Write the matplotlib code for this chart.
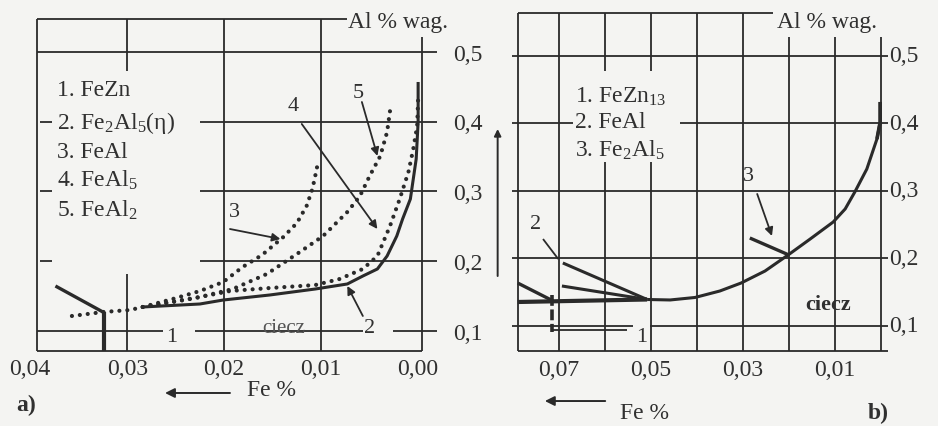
import numpy as np
import matplotlib
matplotlib.use('Agg')
import matplotlib.pyplot as plt

plt.rcParams['font.family'] = ['Liberation Serif', 'DejaVu Serif']
plt.rcParams['mathtext.fontset'] = 'custom'
plt.rcParams['mathtext.rm'] = 'Liberation Serif'
plt.rcParams['mathtext.it'] = 'Liberation Serif:italic'
plt.rcParams['mathtext.bf'] = 'Liberation Serif:bold'

INK = '#2a2a2a'
TXT = '#303030'
BG = '#f4f4f2'

# ---- panel a) : Fe % vs Al % wag.
a_xticks = [0.04, 0.03, 0.02, 0.01, 0.00]
a_xlabels = ['0,04', '0,03', '0,02', '0,01', '0,00']
a_yticks = [0.5, 0.4, 0.3, 0.2, 0.1]
a_ylabels = ['0,5', '0,4', '0,3', '0,2', '0,1']

# liquidus (solid line, 2)
fe_liq_a = [0.0284, 0.0225, 0.0201, 0.0153, 0.0106, 0.0073, 0.0057, 0.0042,
            0.0032, 0.0022, 0.0016, 0.0008, 0.0002, 0.0000, 0.0000]
al_liq_a = [0.1344, 0.1387, 0.1444, 0.1516, 0.1602, 0.1674, 0.1788, 0.1889,
            0.2075, 0.2362, 0.2606, 0.2892, 0.3466, 0.3996, 0.4570]
# dotted continuation to the left
fe_liq_a_dot = [0.0357, 0.0349, 0.0325, 0.0297, 0.0284]
al_liq_a_dot = [0.1215, 0.1229, 0.1272, 0.1301, 0.1344]
# FeZn boundary (1)
fe_fezn_a = [0.0374, 0.0325]
al_fezn_a = [0.1645, 0.1272]
fe_fezn_v = [0.0324, 0.0324]
al_fezn_v = [0.1272, 0.0713]
# metastable curves (dotted) 3, 4, 5
fe_c3 = [0.0284, 0.0253, 0.0225, 0.0201, 0.0181, 0.0161, 0.0139, 0.0125,
         0.0115, 0.0109, 0.0105, 0.0103]
al_c3 = [0.1344, 0.1459, 0.1573, 0.1702, 0.1917, 0.2089, 0.2347, 0.2548,
         0.2792, 0.3036, 0.3294, 0.3437]
fe_c4 = [0.0284, 0.0235, 0.0194, 0.0153, 0.0106, 0.0081, 0.0057, 0.0042,
         0.0029, 0.0019, 0.0010, 0.0005, 0.0001, 0.0000]
al_c4 = [0.1344, 0.1459, 0.1573, 0.1616, 0.1659, 0.1745, 0.1889, 0.2075,
         0.2505, 0.2892, 0.3279, 0.3609, 0.3939, 0.4326]
fe_c5 = [0.0284, 0.0225, 0.0191, 0.0156, 0.0122, 0.0098, 0.0073, 0.0060,
         0.0050, 0.0039, 0.0032, 0.0029]
al_c5 = [0.1344, 0.1487, 0.1602, 0.1817, 0.2132, 0.2362, 0.2706, 0.2935,
         0.3222, 0.3509, 0.3853, 0.4154]
a_legend = ['1. FeZn', '2. Fe$_2$Al$_5$(η)', '3. FeAl', '4. FeAl$_5$',
            '5. FeAl$_2$']

# ---- panel b)
b_xticks = [0.07, 0.05, 0.03, 0.01]
b_xlabels = ['0,07', '0,05', '0,03', '0,01']
b_grid_x = [0.07, 0.06, 0.05, 0.04, 0.03, 0.02, 0.01, 0.00]
b_yticks = [0.5, 0.4, 0.3, 0.2, 0.1]
b_ylabels = ['0,5', '0,4', '0,3', '0,2', '0,1']

fe_liq_b = [0.0508, 0.0458, 0.0404, 0.0350, 0.0304, 0.0252, 0.0202, 0.0154,
            0.0104, 0.0078, 0.0057, 0.0031, 0.0009, 0.0002, 0.0002]
al_liq_b = [0.1387, 0.1380, 0.1417, 0.1513, 0.1631, 0.1809, 0.2046, 0.2283,
            0.2535, 0.2728, 0.2980, 0.3320, 0.3765, 0.4017, 0.4313]
fe_b1 = [0.0789, 0.0508]
al_b1 = [0.1350, 0.1387]
fe_b2 = [0.0691, 0.0508]
al_b2 = [0.1928, 0.1387]
fe_b2s = [0.0693, 0.0508]
al_b2s = [0.1587, 0.1387]
fe_b1s = [0.0789, 0.0712]
al_b1s = [0.1631, 0.1365]
fe_b1v = [0.0715, 0.0715]
al_b1v = [0.1454, 0.0905]
fe_b1h = [0.0715, 0.0552]
al_b1h = [0.0935, 0.0935]
fe_b3 = [0.0285, 0.0200]
al_b3 = [0.2298, 0.2046]
b_legend = ['1. FeZn$_{13}$', '2. FeAl', '3. Fe$_2$Al$_5$']


def seg(ax, xs, ys, lw=1.3, **kw):
    ax.plot(xs, ys, color=INK, lw=lw, clip_on=False, solid_capstyle='butt', **kw)


def arrow(ax, tail, tip, lw=1.3, ms=12):
    ax.annotate('', xy=tip, xytext=tail, annotation_clip=False,
                arrowprops=dict(arrowstyle='-|>', color=INK, lw=lw,
                                mutation_scale=ms, shrinkA=0, shrinkB=0))


def dotted(ax, xs, ys):
    ax.plot(xs, ys, color=INK, lw=3.0, linestyle=(0, (0.01, 1.9)),
            dash_capstyle='round', clip_on=False)


fig = plt.figure(figsize=(9.38, 4.27), dpi=100, facecolor=BG)

# ================= panel a
ax = fig.add_axes([0.03945, 0.17564, 0.41045, 0.77752])
ax.set_xlim(0.0393, -0.0004)
ax.set_ylim(0.0713, 0.5473)
ax.axis('off')
x0, x1 = ax.get_xlim()
y0, y1 = ax.get_ylim()

seg(ax, [x0, x0], [y0, y1])
seg(ax, [x0, 0.0073], [y1, y1])
seg(ax, [x0, x1], [y0, y0])
seg(ax, [x1, x1], [y0, 0.5215])
seg(ax, [x0, -0.0019], [0.5, 0.5])
for v in [0.4, 0.3, 0.2]:
    seg(ax, [0.0225, -0.0019], [v, v])
    seg(ax, [0.0390, 0.0378], [v, v])
seg(ax, [x0, 0.0263], [0.1, 0.1])
seg(ax, [0.0230, 0.0057], [0.1, 0.1])
seg(ax, [0.0026, -0.0019], [0.1, 0.1])
seg(ax, [0.03, 0.03], [y1, 0.4727])
seg(ax, [0.03, 0.03], [0.1817, y0])
for v in [0.02, 0.01]:
    seg(ax, [v, v], [y0, y1])

dotted(ax, fe_c3, al_c3)
dotted(ax, fe_c4, al_c4)
dotted(ax, fe_c5, al_c5)
dotted(ax, fe_liq_a_dot, al_liq_a_dot)
seg(ax, fe_liq_a, al_liq_a, lw=2.2)
seg(ax, fe_fezn_a, al_fezn_a, lw=2.4)
seg(ax, fe_fezn_v, al_fezn_v, lw=3.0)

for v, s in zip(a_xticks, a_xlabels):
    ax.text(v, 0.0455, s, ha='center', va='center', fontsize=17, color=TXT)
for v, s in zip(a_yticks, a_ylabels):
    ax.text(-0.0036, v - 0.003, s, ha='left', va='center', fontsize=17,
            color=TXT)
for i, s in enumerate(a_legend):
    ax.text(0.0372, [0.4469, 0.3996, 0.3580, 0.3179, 0.2749][i], s,
            ha='left', va='center', fontsize=17, color=TXT)

ax.text(0.0072, 0.5430, 'Al % wag.', ha='left', va='center', fontsize=17,
        color=TXT)
ax.text(0.0062, 0.4426, '5', ha='center', va='center', fontsize=16, color=TXT)
ax.text(0.0129, 0.4226, '4', ha='center', va='center', fontsize=16, color=TXT)
ax.text(0.0189, 0.2720, '3', ha='center', va='center', fontsize=16, color=TXT)
ax.text(0.0050, 0.1057, '2', ha='center', va='center', fontsize=16, color=TXT)
ax.text(0.0254, 0.0914, '1', ha='center', va='center', fontsize=16, color=TXT)
ax.text(0.0139, 0.1057, 'ciecz', ha='center', va='center', fontsize=15,
        color='#555555')
arrow(ax, (0.0058, 0.4283), (0.0042, 0.3509))
arrow(ax, (0.0120, 0.3968), (0.0042, 0.2462))
arrow(ax, (0.0194, 0.2462), (0.0142, 0.2319))
arrow(ax, (0.0057, 0.1215), (0.0073, 0.1645))

ax.text(0.0151, 0.0168, 'Fe %', ha='center', va='center', fontsize=17,
        color=TXT)
arrow(ax, (0.0194, 0.0111), (0.0261, 0.0111), lw=1.4, ms=14)
ax.text(0.0414, -0.0047, 'a)', ha='left', va='center', fontsize=17,
        fontweight='bold', color=TXT)
arrow(ax, (-0.0082, 0.1788), (-0.0082, 0.3896), lw=1.4, ms=10)

# ================= panel b
bx = fig.add_axes([0.55192, 0.17564, 0.39478, 0.79157])
bx.set_xlim(0.0789, -0.0015)
bx.set_ylim(0.0624, 0.5631)
bx.axis('off')
x0, x1 = bx.get_xlim()
y0, y1 = bx.get_ylim()

seg(bx, [x0, x0], [y0, y1])
seg(bx, [x0, 0.0235], [y1, y1])
seg(bx, [x0, x1], [y0, y0])
for v in [0.5, 0.3, 0.2]:
    seg(bx, [0.0801, -0.0015], [v, v])
seg(bx, [0.0801, 0.0669], [0.4, 0.4])
seg(bx, [0.0436, -0.0015], [0.4, 0.4])
seg(bx, [0.0801, 0.0539], [0.1, 0.1])
seg(bx, [0.0502, -0.0015], [0.1, 0.1])
for v in b_grid_x:
    if v in (0.06, 0.05):
        seg(bx, [v, v], [y1, 0.4772])
        seg(bx, [v, v], [0.3424, y0])
    elif v <= 0.02:
        seg(bx, [v, v], [0.5276, y0])
    else:
        seg(bx, [v, v], [y1, y0])

seg(bx, fe_liq_b, al_liq_b, lw=2.2)
seg(bx, fe_liq_b[-3:], al_liq_b[-3:], lw=2.6)
seg(bx, fe_b1, al_b1, lw=3.0)
seg(bx, fe_b2, al_b2, lw=2.2)
seg(bx, fe_b2s, al_b2s, lw=2.2)
seg(bx, fe_b1s, al_b1s, lw=2.4)
seg(bx, fe_b1v, al_b1v, lw=2.6, linestyle=(0, (3, 1)))
seg(bx, fe_b1h, al_b1h, lw=1.3)
seg(bx, fe_b3, al_b3, lw=2.4)

for v, s in zip(b_xticks, b_xlabels):
    bx.text(v, 0.0357, s, ha='center', va='center', fontsize=17, color=TXT)
for v, s in zip(b_yticks, b_ylabels):
    bx.text(-0.0017, v, s, ha='left', va='center', fontsize=17, color=TXT)
for i, s in enumerate(b_legend):
    bx.text(0.0665, [0.4402, 0.4031, 0.3617][i], s, ha='left', va='center',
            fontsize=17, color=TXT)

bx.text(0.0226, 0.5498, 'Al % wag.', ha='left', va='center', fontsize=17,
        color=TXT)
bx.text(0.0751, 0.2506, '2', ha='center', va='center', fontsize=16, color=TXT)
seg(bx, [0.0734, 0.0701], [0.2283, 0.1987], lw=1.3)
bx.text(0.0519, 0.0846, '1', ha='center', va='center', fontsize=16, color=TXT)
bx.text(0.0287, 0.3217, '3', ha='center', va='center', fontsize=16, color=TXT)
arrow(bx, (0.0269, 0.2950), (0.0237, 0.2328))
bx.text(0.0115, 0.1320, 'ciecz', ha='center', va='center', fontsize=16,
        fontweight='bold', color=TXT)

bx.text(0.0513, -0.0280, 'Fe %', ha='center', va='center', fontsize=17,
        color=TXT)
arrow(bx, (0.0599, -0.0117), (0.0730, -0.0117), lw=1.4, ms=14)
bx.text(0.0028, -0.0280, 'b)', ha='left', va='center', fontsize=17,
        fontweight='bold', color=TXT)

fig.savefig('out.png', dpi=100, facecolor=BG)
